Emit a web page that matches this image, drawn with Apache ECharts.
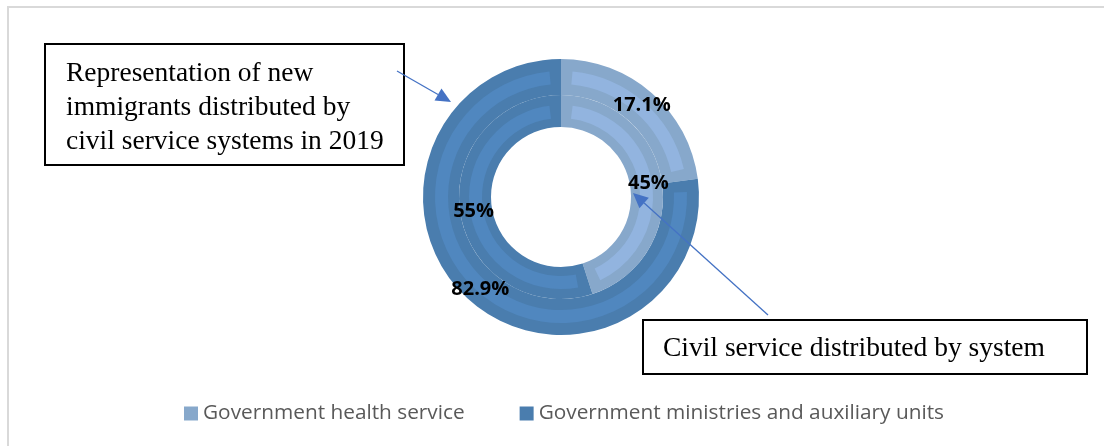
<!DOCTYPE html>
<html><head><meta charset="utf-8">
<script src="https://cdn.jsdelivr.net/npm/echarts@6/dist/echarts.min.js"></script>
<style>html,body{margin:0;padding:0;background:#fff}#c{width:1104px;height:446px}</style>
</head><body><div id="c"></div>
<script>
// ---- data ----
const categories = ['Government health service', 'Government ministries and auxiliary units'];
// inner ring
const innerValues = [45, 55];
const innerLabels = ['45%', '55%'];
// outer ring: sector sizes as drawn in the reference; printed labels as shown
const outerValues = [22.9, 77.1];
const outerLabels = ['17.1%', '82.9%'];
const titleText = 'Representation of new\nimmigrants distributed by\ncivil service systems in 2019';
const noteText = 'Civil service distributed by system';

// ---- styles ----
const darkColors = ['#87A8CB', '#4A7DAE'];
const lightColors = ['#92B4DF', '#5087BF'];
const CX = 561, CY = 197;

function mk(values, colors) {
  return values.map((v, i) => ({ name: categories[i], value: v, itemStyle: { color: colors[i] } }));
}
function ring(values, colors, radius, pad, labels) {
  return {
    type: 'pie', center: [CX, CY], radius: radius, startAngle: 90, clockwise: true,
    padAngle: pad, silent: true, animation: false, avoidLabelOverlap: false,
    emphasis: { disabled: true },
    itemStyle: { borderWidth: 0 },
    label: labels ? {
      show: true, position: 'inside',
      formatter: p => labels[p.dataIndex],
      fontFamily: 'Open Sans', fontWeight: 'bold', fontSize: 20, color: '#000'
    } : { show: false },
    labelLine: { show: false },
    data: mk(values, colors)
  };
}
function arrow(x1, y1, x2, y2, color) {
  const dx = x2 - x1, dy = y2 - y1, L = Math.hypot(dx, dy);
  const ux = dx / L, uy = dy / L, hl = 15, hw = 7;
  const bx = x2 - ux * hl, by = y2 - uy * hl;
  return [
    { type: 'line', silent: true, z: 100, shape: { x1: x1, y1: y1, x2: bx, y2: by }, style: { stroke: color, lineWidth: 1.3 } },
    { type: 'polygon', silent: true, z: 100, shape: { points: [[x2, y2], [bx - uy * hw, by + ux * hw], [bx + uy * hw, by - ux * hw]] }, style: { fill: color } }
  ];
}

const chart = echarts.init(document.getElementById('c'), null, { renderer: 'canvas' });
chart.setOption({
  backgroundColor: '#fff',
  animation: false,
  legend: {
    data: categories, left: 179, top: 398, icon: 'rect', itemWidth: 14, itemHeight: 14, itemGap: 55,
    selectedMode: false,
    textStyle: { fontFamily: 'Open Sans', fontSize: 20.8, color: '#595959' }
  },
  series: [
    ring(outerValues, darkColors, [102, 138], 0, null),
    ring(innerValues, darkColors, [70, 102], 0, null),
    ring(outerValues, lightColors, [113, 126], 10.5, outerLabels),
    ring(innerValues, lightColors, [79, 92], 14.5, innerLabels)
  ],
  graphic: [
    { type: 'rect', silent: true, shape: { x: 8, y: 7, width: 1120, height: 460 }, style: { fill: null, stroke: '#D9D9D9', lineWidth: 2 } },
    { type: 'rect', silent: true, z: 90, shape: { x: 45, y: 44, width: 359, height: 121 }, style: { fill: '#fff', stroke: '#000', lineWidth: 2 } },
    { type: 'text', silent: true, z: 91, style: { x: 66, y: 57, text: titleText, font: '27.5px "Liberation Serif"', lineHeight: 34, fill: '#000', textVerticalAlign: 'top' } },
    { type: 'rect', silent: true, z: 90, shape: { x: 643, y: 320, width: 444, height: 54 }, style: { fill: '#fff', stroke: '#000', lineWidth: 2 } },
    { type: 'text', silent: true, z: 91, style: { x: 663, y: 349, text: noteText, font: '27.5px "Liberation Serif"', fill: '#000', textVerticalAlign: 'middle' } },
    ...arrow(397, 71, 451, 102, '#4472C4'),
    ...arrow(768, 315, 633, 193, '#4472C4')
  ]
});
</script>
</body></html>
